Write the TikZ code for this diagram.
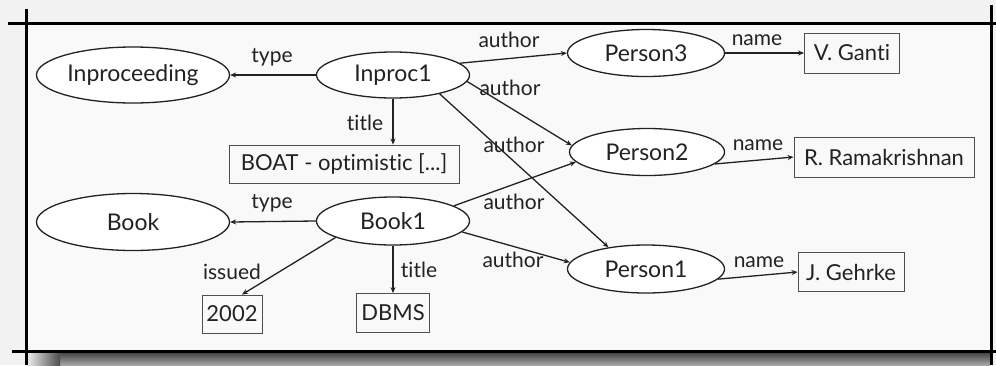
\documentclass[tikz,border=0pt]{standalone}
\usepackage{fontspec}
\setmainfont{Lato}[Ligatures=NoCommon]
\usetikzlibrary{shapes.geometric,arrows.meta}
\definecolor{bgc}{HTML}{F2F2F3}
\definecolor{ink}{HTML}{222222}
\begin{document}
\begin{tikzpicture}[x=1pt,y=-1pt,
  ent/.style={ellipse,draw=ink,line width=1.3pt,fill=white,inner sep=0pt,text=ink,font=\fontsize{23}{23}\selectfont},
  lit/.style={rectangle,draw=ink!80,line width=0.9pt,inner sep=0pt,text=ink,font=\fontsize{22}{22}\selectfont},
  rel/.style={-{Stealth[length=6pt,width=5pt]},line width=1.3pt,draw=ink},
  lbl/.style={text=ink,font=\fontsize{21}{21}\selectfont,inner sep=0pt},
  frame/.style={line width=3pt,draw=black}
  ]
\useasboundingbox (0,0) rectangle (996,365);
\fill[bgc] (0,0) rectangle (996,365);
\fill[white!50!bgc] (26,23) rectangle (991,351);
% shadow below the frame
\shade[top color=black!75, bottom color=black!35] (28,352) rectangle (990,365);
\shade[left color=bgc, right color=black!70] (26,352) rectangle (60,365);
% frame lines
\draw[frame] (8,23) -- (996,23);
\draw[frame] (12,351) -- (996,351);
\draw[frame] (26,9) -- (26,365);
\draw[frame] (991,5) -- (991,365);

% nodes
\node[ent,minimum width=193pt,minimum height=56pt] (inpr) at (133,75) {Inproceeding};
\node[ent,minimum width=153pt,minimum height=46pt] (inproc) at (393,75) {Inproc1};
\node[lit,minimum width=230pt,minimum height=38pt] (boat) at (344,164) {BOAT - optimistic [...]};
\node[ent,minimum width=157pt,minimum height=47pt] (p3) at (646,53) {Person3};
\node[lit,minimum width=95pt,minimum height=40pt] (ganti) at (852,53) {V. Ganti};
\node[ent,minimum width=155pt,minimum height=47pt] (p2) at (647,152) {Person2};
\node[lit,minimum width=180pt,minimum height=40pt] (rama) at (884,157) {R. Ramakrishnan};
\node[ent,minimum width=193pt,minimum height=57pt] (book) at (133,222) {Book};
\node[ent,minimum width=153pt,minimum height=48pt] (book1) at (393,221) {Book1};
\node[lit,minimum width=60pt,minimum height=38pt] (y2002) at (232,314) {2002};
\node[lit,minimum width=73pt,minimum height=39pt] (dbms) at (393,313) {DBMS};
\node[ent,minimum width=157pt,minimum height=48pt] (p1) at (646,269) {Person1};
\node[lit,minimum width=106pt,minimum height=39pt] (gehrke) at (851,272) {J. Gehrke};

% edges
\draw[rel] (inproc.west) -- (inpr.east);
\draw[rel] (inproc.south) -- (inproc.south |- boat.north);
\draw[rel] (inproc.10) -- (p3.west);
\draw[rel] (inproc.-5) -- (p2.175);
\draw[rel] (inproc.-22) -- (p1.150);
\draw[rel] (book1.west) -- (book.east);
\draw[rel] (book1.196) -- ([xshift=10pt]y2002.north);
\draw[rel] (book1.south) -- (book1.south |- dbms.north);
\draw[rel] (book1.14) -- (p2.188);
\draw[rel] (book1.-9) -- (p1.175);
\draw[rel] (p3.east) -- (ganti.west);
\draw[rel] (p2.-10) -- (rama.west);
\draw[rel] (p1.-8) -- (gehrke.west);

% labels
\node[lbl] (l1) at (272,57) {type};
\node[lbl] (l2) at (365,123) {title};
\node[lbl] (l3) at (509,40) {author};
\node[lbl] (l4) at (510,88) {author};
\node[lbl] (l5) at (514,145) {author};
\node[lbl] (l6) at (514,202) {author};
\node[lbl] (l7) at (513,260) {author};
\node[lbl] (l8) at (272,203) {type};
\node[lbl] (l9) at (232,272) {issued};
\node[lbl] (l10) at (419,270) {title};
\node[lbl] (l11) at (757,40) {name};
\node[lbl] (l12) at (758,145) {name};
\node[lbl] (l13) at (759,262) {name};
\end{tikzpicture}
\end{document}
